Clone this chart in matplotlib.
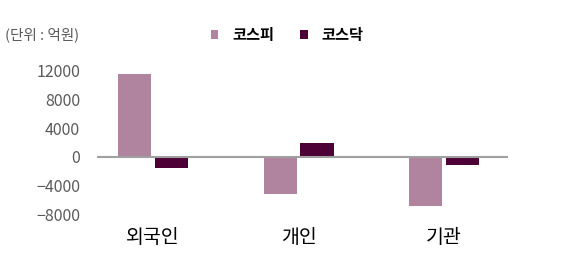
import numpy as np
import matplotlib.pyplot as plt

plt.rcParams['font.family'] = ['Noto Sans CJK KR', 'DejaVu Sans']

# data (단위: 억원)
categories = ['외국인', '개인', '기관']
kospi = [11600, -5200, -6900]
kosdaq = [-1500, 1900, -1200]
yticks = [12000, 8000, 4000, 0, -4000, -8000]

KOSPI_COLOR = '#b0839f'
KOSDAQ_COLOR = '#4d0035'

fig = plt.figure(figsize=(5.8, 2.61), dpi=100)
ax = fig.add_axes([0.167, 0.179, 0.709, 0.550])

x = np.arange(len(categories))
w = 0.229
off = w / 2 + 0.012
ax.bar(x - off, kospi, width=w, color=KOSPI_COLOR, label='코스피', zorder=2)
ax.bar(x + off, kosdaq, width=w, color=KOSDAQ_COLOR, label='코스닥', zorder=2)

# zero line
ax.axhline(0, color='#a0a0a0', linewidth=1.5, zorder=3)

ax.set_xlim(-0.387, 2.44)
ax.set_ylim(-8000, 12000)
ax.set_yticks(yticks)
ax.set_yticklabels([str(v).replace('-', '\u2212') for v in yticks], color='#595959', fontsize=11.5)
ax.tick_params(axis='y', length=0, pad=12)

# category names under the plot
ax.set_xticks([])
for xi, name in zip(x, categories):
    ax.text(xi, -11200, name, ha='center', va='center', fontsize=14, color='black')

for s in ax.spines.values():
    s.set_visible(False)

fig.text(0.008, 0.866, '(단위 : 억원)', ha='left', va='center', fontsize=10.5, color='#595959')

leg = fig.legend(loc='center', bbox_to_anchor=(0.495, 0.866), ncol=2, frameon=False,
                 fontsize=11, handlelength=0.5, handleheight=0.5, columnspacing=1.7,
                 handletextpad=0.9)
for t in leg.get_texts():
    t.set_fontweight('bold')

fig.savefig('out.png', dpi=100)
